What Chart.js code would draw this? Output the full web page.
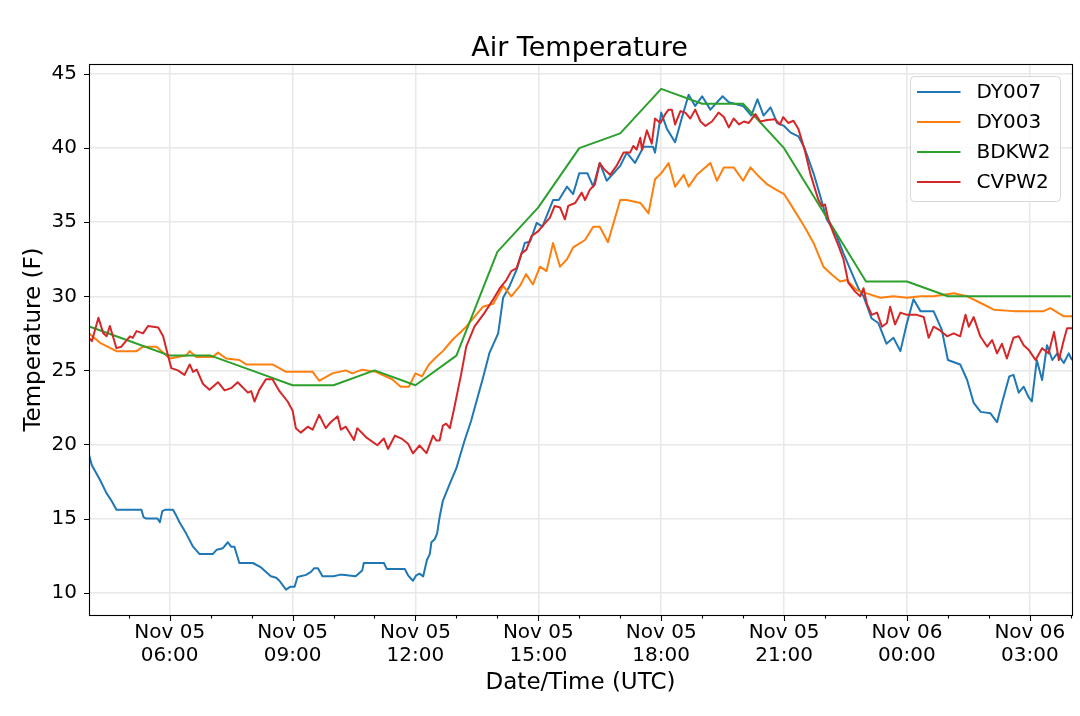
<!DOCTYPE html>
<html><head><meta charset="utf-8">
<script src="https://cdn.jsdelivr.net/npm/chart.js@4.4.0/dist/chart.umd.min.js"></script>
<style>html,body{margin:0;padding:0;background:#fff;}#wrap{width:1080px;height:716px;}</style>
</head><body><div id="wrap"><canvas id="c" width="1080" height="716"></canvas></div>
<script>
// Hours since Nov 05 00:00 UTC
const seriesNames = ['DY007', 'DY003', 'BDKW2', 'CVPW2'];
const seriesColors = ['#1f77b4', '#ff7f0e', '#2ca02c', '#d62728'];

const dy007Hours = [4.03,4.1,4.3,4.46,4.58,4.7,5.31,5.36,5.43,5.7,5.76,5.82,5.9,6.08,6.16,6.24,6.4,6.57,6.73,7.05,7.15,7.3,7.42,7.5,7.58,7.7,8.03,8.23,8.47,8.6,8.68,8.84,8.95,9.05,9.12,9.33,9.45,9.53,9.62,9.73,10.0,10.15,10.22,10.54,10.7,10.74,11.23,11.3,11.74,11.82,11.94,12.02,12.1,12.19,12.23,12.28,12.35,12.39,12.47,12.53,12.59,12.67,12.84,13.0,13.08,13.2,13.36,13.52,13.65,13.81,14.02,14.14,14.3,14.47,14.67,14.8,14.96,15.1,15.36,15.5,15.7,15.85,16.0,16.2,16.34,16.5,16.67,17.0,17.16,17.36,17.57,17.8,17.85,18.0,18.14,18.34,18.5,18.67,18.83,19.0,19.2,19.5,19.65,20.0,20.2,20.35,20.5,20.67,20.83,21.0,21.16,21.35,21.5,21.72,21.88,22.04,22.29,22.45,22.65,22.82,22.94,23.14,23.3,23.5,23.67,23.84,24.0,24.16,24.33,24.65,24.85,25.0,25.3,25.47,25.63,25.8,26.04,26.2,26.32,26.5,26.6,26.73,26.85,26.97,27.05,27.17,27.3,27.42,27.55,27.67,27.83,27.95,28.03];
const dy007Temp = [19.3,18.6,17.6,16.7,16.2,15.6,15.6,15.1,15.0,15.0,14.75,15.5,15.6,15.6,15.2,14.75,14.0,13.1,12.6,12.6,12.9,13.0,13.4,13.1,13.1,12.0,12.0,11.7,11.1,11.0,10.8,10.2,10.4,10.4,11.05,11.2,11.4,11.65,11.65,11.1,11.1,11.2,11.2,11.1,11.5,12.0,12.0,11.6,11.6,11.17,10.8,11.17,11.28,11.1,11.6,12.2,12.6,13.4,13.6,14.0,15.1,16.2,17.35,18.4,19.15,20.27,21.6,23.2,24.5,26.2,27.5,29.9,30.7,31.8,33.6,33.7,34.96,34.7,36.5,36.5,37.4,36.9,38.3,38.3,37.4,39.0,37.8,38.8,39.7,39.0,40.1,40.1,39.7,42.4,41.3,40.4,42.0,43.6,42.85,43.5,42.6,43.5,43.1,42.85,42.2,43.3,42.2,42.75,41.7,41.5,41.05,40.8,40.0,38.3,36.8,35.2,34.05,32.9,31.6,30.5,30.0,28.5,28.2,26.8,27.2,26.3,28.2,29.8,29.0,29.0,27.75,25.7,25.4,24.35,22.8,22.2,22.1,21.5,22.8,24.6,24.7,23.5,23.9,23.2,22.9,25.7,24.35,26.7,25.7,26.15,25.5,26.15,25.7];

const dy003Hours = [4.03,4.3,4.7,5.19,5.35,5.68,6.0,6.4,6.49,6.65,7.05,7.18,7.38,7.7,7.87,8.51,8.84,9.49,9.65,9.97,10.3,10.46,10.7,11.03,11.43,11.64,11.84,12.0,12.16,12.33,12.53,12.67,12.9,13.24,13.65,13.9,14.14,14.34,14.55,14.7,14.87,15.04,15.2,15.36,15.53,15.7,15.85,16.14,16.34,16.5,16.7,17.0,17.16,17.49,17.69,17.85,18.0,18.18,18.34,18.55,18.67,18.87,19.2,19.36,19.53,19.77,20.0,20.18,20.38,20.59,20.8,21.0,21.24,21.5,21.72,21.96,22.17,22.37,22.53,22.78,23.02,23.35,23.67,24.0,24.33,24.65,25.14,25.47,25.8,26.12,26.6,27.34,27.5,27.83,28.03];
const dy003Temp = [27.5,26.86,26.3,26.3,26.6,26.6,25.8,26.0,26.3,25.9,25.9,26.2,25.8,25.7,25.4,25.4,24.9,24.9,24.3,24.8,25.0,24.8,25.05,24.9,24.4,23.9,23.9,24.8,24.6,25.4,25.95,26.3,27.05,27.95,29.3,29.5,30.7,30.0,30.7,31.5,30.8,32.0,31.7,33.6,32.0,32.5,33.3,33.8,34.7,34.7,33.65,36.5,36.5,36.3,35.6,37.9,38.3,39.0,37.4,38.2,37.4,38.2,39.0,37.8,38.7,38.7,37.8,38.7,38.1,37.55,37.2,36.9,35.85,34.7,33.6,32.0,31.45,31.0,31.1,30.4,30.2,29.9,30.0,29.9,30.0,30.0,30.2,30.0,29.55,29.1,29.0,29.0,29.2,28.65,28.65];

const bdkw2Hours = [4,5,6,7,8,9,10,11,12,13,14,15,16,17,18,19,20,21,22,23,24,25,26,27,28];
const bdkw2Temp = [28,27,26,26,25,24,24,25,24,26,33,36,40,41,44,43,43,40,35.5,31,31,30,30,30,30];

const cvpw2Hours = [4.03,4.1,4.26,4.38,4.46,4.54,4.7,4.82,5.03,5.1,5.19,5.35,5.47,5.72,5.84,5.94,6.04,6.2,6.36,6.49,6.57,6.66,6.81,6.97,7.18,7.34,7.5,7.66,7.91,7.99,8.07,8.19,8.35,8.51,8.68,8.88,9.0,9.08,9.2,9.37,9.49,9.65,9.81,9.93,10.1,10.18,10.3,10.5,10.58,10.79,11.07,11.23,11.33,11.5,11.66,11.82,11.94,12.1,12.27,12.43,12.51,12.59,12.67,12.75,12.84,12.95,13.12,13.24,13.44,13.69,13.9,14.06,14.22,14.34,14.47,14.59,14.71,14.83,15.0,15.12,15.28,15.4,15.53,15.65,15.73,15.9,16.06,16.14,16.26,16.38,16.5,16.6,16.75,16.91,17.08,17.24,17.32,17.4,17.49,17.53,17.65,17.77,17.85,17.98,18.1,18.18,18.26,18.34,18.47,18.59,18.71,18.83,18.96,19.08,19.24,19.4,19.53,19.65,19.77,19.9,20.02,20.14,20.3,20.42,20.59,20.78,20.9,20.98,21.1,21.23,21.35,21.51,21.64,21.76,21.84,21.92,22.0,22.08,22.2,22.33,22.45,22.57,22.74,22.86,22.94,23.02,23.14,23.27,23.39,23.51,23.59,23.71,23.84,24.0,24.24,24.41,24.53,24.65,24.81,24.98,25.14,25.3,25.43,25.51,25.63,25.79,25.96,26.08,26.2,26.32,26.44,26.6,26.73,26.85,26.97,27.14,27.3,27.46,27.59,27.71,27.83,27.91,28.03];
const cvpw2Temp = [27.2,26.97,28.55,27.5,27.3,28.0,26.5,26.6,27.3,27.2,27.65,27.5,28.0,27.9,27.3,26.2,25.15,25.0,24.7,25.4,24.9,25.05,24.1,23.7,24.2,23.65,23.8,24.2,23.5,23.6,22.9,23.7,24.4,24.4,23.6,22.9,22.3,21.1,20.8,21.2,21.0,22.0,21.1,21.5,21.9,21.0,21.2,20.3,21.1,20.5,19.95,20.4,19.7,20.6,20.4,20.05,19.4,19.93,19.42,20.6,20.27,20.27,21.28,21.4,21.1,22.5,24.8,26.6,27.95,28.9,29.8,30.55,31.1,31.7,31.9,32.9,33.15,34.05,34.4,34.8,35.3,36.1,36.0,35.2,36.1,36.3,37.0,36.5,37.2,37.55,39.0,38.6,38.2,38.8,39.7,39.7,40.15,39.9,40.7,39.9,41.2,40.3,42.0,41.7,42.3,42.6,42.6,41.6,42.5,42.4,42.0,42.6,41.8,41.5,41.8,42.4,42.1,41.4,42.0,41.6,41.8,41.7,42.3,41.8,41.9,41.95,41.6,42.1,41.7,41.85,41.3,39.8,38.3,37.2,36.5,36.1,36.2,35.2,34.3,33.4,32.5,30.9,30.3,30.0,30.55,29.5,28.75,28.9,27.95,28.2,29.3,28.1,28.9,28.75,28.75,28.6,27.2,27.95,27.7,27.3,27.5,27.3,28.75,27.95,28.6,27.3,26.6,27.05,26.15,26.8,25.8,27.2,27.3,26.7,26.4,25.7,26.5,26.15,27.6,25.7,27.05,27.85,27.85];

const majorHours = [6, 9, 12, 15, 18, 21, 24, 27];
const xTickLabels = [['Nov 05','06:00'],['Nov 05','09:00'],['Nov 05','12:00'],['Nov 05','15:00'],['Nov 05','18:00'],['Nov 05','21:00'],['Nov 06','00:00'],['Nov 06','03:00']];
const yTicks = [10, 15, 20, 25, 30, 35, 40, 45];
const xMin = 4.03, xMax = 28.03, yMin = 8.49, yMax = 45.68;

const FONT = 'DejaVu Sans';
const GRID = '#e8e8e8';

function pts(hs, ts) { return hs.map((h, i) => ({x: h, y: ts[i]})); }
const seriesData = [pts(dy007Hours, dy007Temp), pts(dy003Hours, dy003Temp), pts(bdkw2Hours, bdkw2Temp), pts(cvpw2Hours, cvpw2Temp)];

const decor = {
  id: 'decor',
  afterDatasetsDraw(chart) {
    const {ctx, chartArea: a, scales: {x, y}} = chart;
    ctx.save();
    ctx.strokeStyle = '#000';
    ctx.lineWidth = 1.1;
    ctx.beginPath();
    yTicks.forEach(v => { const py = Math.round(y.getPixelForValue(v)) + 0.5; ctx.moveTo(a.left - 5, py); ctx.lineTo(a.left, py); });
    for (let h = Math.ceil(xMin); h <= xMax; h++) {
      const px = Math.round(x.getPixelForValue(h)) + 0.5;
      const len = majorHours.includes(h) ? 6 : 3.5;
      ctx.moveTo(px, a.bottom); ctx.lineTo(px, a.bottom + len);
    }
    ctx.stroke();
    ctx.strokeRect(Math.round(a.left) + 0.5, Math.round(a.top) + 0.5, Math.round(a.right - a.left), Math.round(a.bottom - a.top));
    ctx.restore();
  },
  afterDraw(chart) {
    const {ctx, chartArea: a} = chart;
    ctx.save();
    // title
    ctx.fillStyle = '#000';
    ctx.font = '27px "' + FONT + '"';
    ctx.textAlign = 'center';
    ctx.textBaseline = 'alphabetic';
    ctx.fillText('Air Temperature', (a.left + a.right) / 2 - 1, 56);
    // legend
    const lx = a.right - 161.5, ly = a.top + 12.5, lw = 150, lh = 125, r = 4;
    ctx.beginPath();
    ctx.moveTo(lx + r, ly);
    ctx.arcTo(lx + lw, ly, lx + lw, ly + lh, r);
    ctx.arcTo(lx + lw, ly + lh, lx, ly + lh, r);
    ctx.arcTo(lx, ly + lh, lx, ly, r);
    ctx.arcTo(lx, ly, lx + lw, ly, r);
    ctx.closePath();
    ctx.fillStyle = 'rgba(255,255,255,0.85)';
    ctx.fill();
    ctx.strokeStyle = '#d6d6d6';
    ctx.lineWidth = 1;
    ctx.stroke();
    ctx.font = '20px "' + FONT + '"';
    ctx.textAlign = 'left';
    ctx.textBaseline = 'middle';
    chart.data.datasets.forEach((ds, i) => {
      const yy = ly + 15.5 + i * 30;
      ctx.strokeStyle = ds.borderColor;
      ctx.lineWidth = 2;
      ctx.beginPath();
      ctx.moveTo(lx + 6.5, yy); ctx.lineTo(lx + 50, yy);
      ctx.stroke();
      ctx.fillStyle = '#000';
      ctx.fillText(ds.label, lx + 66, yy + 1);
    });
    ctx.restore();
  }
};

const chart = new Chart(document.getElementById('c'), {
  type: 'line',
  data: {
    datasets: seriesNames.map((n, i) => ({
      label: n,
      data: seriesData[i],
      borderColor: seriesColors[i],
      backgroundColor: seriesColors[i],
      borderWidth: 2,
      pointRadius: 0,
      tension: 0,
      fill: false,
      borderJoinStyle: 'round',
      order: 4 - i
    }))
  },
  options: {
    responsive: false,
    animation: false,
    devicePixelRatio: 1,
    layout: {padding: {top: 64, right: 8, bottom: 0, left: 0}},
    plugins: {legend: {display: false}, title: {display: false}, tooltip: {enabled: false}},
    scales: {
      x: {
        type: 'linear', min: xMin, max: xMax,
        afterBuildTicks: s => { s.ticks = majorHours.map(v => ({value: v})); },
        afterFit: s => { s.height = 101; },
        ticks: {
          autoSkip: false, maxRotation: 0, minRotation: 0, padding: 1, color: '#000',
          font: {family: FONT, size: 20, lineHeight: 1.17},
          callback: v => xTickLabels[majorHours.indexOf(v)]
        },
        grid: {color: GRID, lineWidth: 1.5, tickLength: 5, tickColor: 'rgba(0,0,0,0)'},
        border: {display: false},
        title: {display: true, text: 'Date/Time (UTC)', color: '#000', font: {family: FONT, size: 23, lineHeight: 1.2}, padding: {top: 0, bottom: 19}}
      },
      y: {
        type: 'linear', min: yMin, max: yMax,
        afterBuildTicks: s => { s.ticks = yTicks.map(v => ({value: v})); },
        afterFit: s => { s.width = 89; },
        ticks: {padding: 7, color: '#000', font: {family: FONT, size: 20}},
        grid: {color: GRID, lineWidth: 1.5, tickLength: 5, tickColor: 'rgba(0,0,0,0)'},
        border: {display: false},
        title: {display: true, text: 'Temperature (F)', color: '#000', font: {family: FONT, size: 23, lineHeight: 1.2}, padding: {top: 20, bottom: 0}}
      }
    }
  },
  plugins: [decor]
});

// Align the plot area to the reference frame
const target = {left: 89, top: 64, right: 1072, bottom: 615};
const ca = chart.chartArea;
const p = chart.options.layout.padding;
chart.options.layout.padding = {
  top: p.top + (target.top - ca.top),
  left: p.left + (target.left - ca.left),
  right: p.right + (ca.right - target.right),
  bottom: p.bottom + (ca.bottom - target.bottom)
};
chart.update();
</script>
</body></html>
